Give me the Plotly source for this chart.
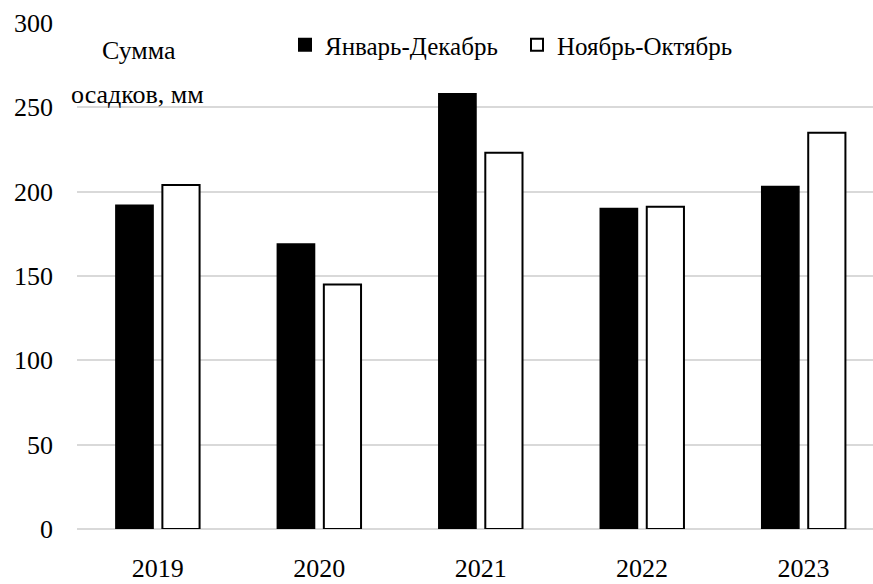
import plotly.graph_objects as go

years = ["2019", "2020", "2021", "2022", "2023"]
jan_dec = [192, 169, 258, 190, 203]
nov_oct = [204, 145, 223, 191, 235]
series_names = ["Январь-Декабрь", "Ноябрь-Октябрь"]
y_ticks = [0, 50, 100, 150, 200, 250, 300]

FONT = "Liberation Serif"
FS = 26
W, H = 873, 584
L, R, T, B = 77, 0, 23, 55

fig = go.Figure()
fig.add_trace(go.Bar(x=years, y=jan_dec, name=series_names[0],
                     marker=dict(color="black", line=dict(color="black", width=1.5))))
fig.add_trace(go.Bar(x=years, y=nov_oct, name=series_names[1],
                     marker=dict(color="white", line=dict(color="black", width=2))))

def px_x(x):
    return (x - L) / (W - L - R)

def px_y(y):
    return (H - B - y) / (H - T - B)

fig.update_layout(
    width=W, height=H,
    margin=dict(l=L, r=R, t=T, b=B),
    paper_bgcolor="white", plot_bgcolor="white",
    barmode="group", bargap=0.424, bargroupgap=0.2,
    font=dict(family=FONT, size=FS, color="black"),
    showlegend=True,
    legend=dict(orientation="h", x=px_x(285), y=px_y(45), xanchor="left", yanchor="middle",
                font=dict(family=FONT, size=25, color="black"),
                entrywidth=187, entrywidthmode="pixels",
                bgcolor="rgba(0,0,0,0)", itemsizing="constant", traceorder="normal"),
    xaxis=dict(range=[-0.5, 4.43], showgrid=False, showline=False, ticks="", ticklabelstandoff=21,
               tickfont=dict(family=FONT, size=FS, color="black")),
    yaxis=dict(range=[0, 300], tickvals=y_ticks, showgrid=True, gridcolor="#d9d9d9",
               gridwidth=1.5, zeroline=True, zerolinecolor="#d9d9d9", zerolinewidth=1.5,
               showline=False, ticks="", ticklabelstandoff=23,
               tickfont=dict(family=FONT, size=FS, color="black")),
)

fig.add_annotation(text="Сумма", xref="paper", yref="paper", x=px_x(139), y=px_y(50),
                   xanchor="center", yanchor="middle", showarrow=False,
                   font=dict(family=FONT, size=FS, color="black"))
fig.add_annotation(text="осадков, мм", xref="paper", yref="paper", x=px_x(137), y=px_y(95),
                   xanchor="center", yanchor="middle", showarrow=False,
                   font=dict(family=FONT, size=FS, color="black"))

fig.write_html("out.html")
